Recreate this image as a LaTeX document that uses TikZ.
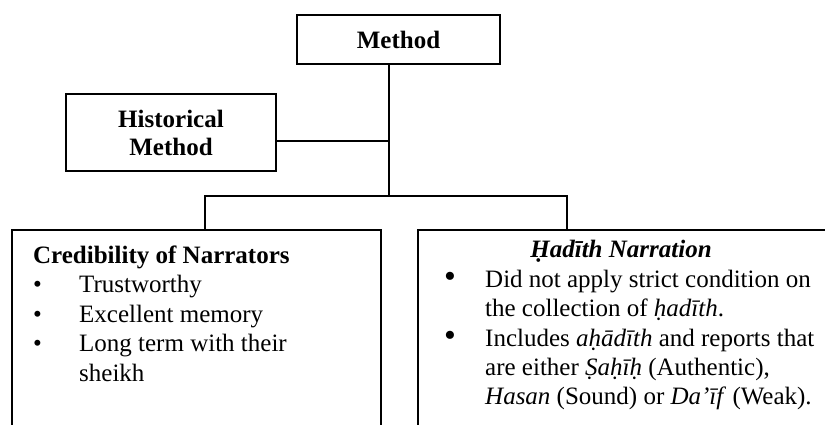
\documentclass[tikz,border=0pt]{standalone}
\usepackage{fontspec}
\setmainfont{Liberation Serif}
\usepackage{array}
\usepackage{graphicx}
\newcommand{\bigbul}{\raisebox{-0.5pt}{\scalebox{1.35}{\textbullet}}}
\begin{document}
\begin{tikzpicture}[x=1pt,y=-1pt,
  boxframe/.style={draw, line width=1.6pt, inner sep=0pt},
  lbl/.style={font=\fontsize{25}{28}\selectfont\bfseries, align=center},
  body/.style={inner sep=0pt, font=\fontsize{25}{29.5}\selectfont},
  wire/.style={line width=1.6pt}]
\useasboundingbox (0,0) rectangle (825,425);
\clip (0,0) rectangle (825,425);
\node[boxframe, lbl, minimum width=203pt, minimum height=49pt] (method) at (398.5,39.5) {Method};
\node[boxframe, lbl, minimum width=210pt, minimum height=77pt] (hist) at (171,132.5) {Historical\\Method};
\node[boxframe, minimum width=369pt, minimum height=210pt] (left) at (196.5,335) {};
\node[boxframe, minimum width=422pt, minimum height=210pt] (right) at (629,335) {};
\coordinate (j) at (389,196);
\coordinate (hj) at (389,141);
\coordinate (jl) at (205,196);
\coordinate (jr) at (567,196);
\draw[wire] (method.south -| j) -- (j);
\draw[wire] (hist.east |- hj) -- (hj);
\draw[wire] (left.north -| jl) -- (jl) -- (jr) -- (right.north -| jr);
\node[body, anchor=base west] (lt) at (33,263) {\begin{tabular}[t]{@{}p{46pt}@{}l@{}}
\multicolumn{2}{@{}l@{}}{\bfseries Credibility of Narrators}\\
\textbullet & Trustworthy\\
\textbullet & Excellent memory\\
\textbullet & Long term with their\\
 & sheikh
\end{tabular}};
\node[body, anchor=base] (rtitle) at (621,257) {\bfseries\itshape Ḥadīth Narration};
\node[body, anchor=base west] (rt) at (444,287) {\begin{tabular}[t]{@{}p{41pt}@{}l@{}}
\bigbul & Did not apply strict condition on\\
 & the collection of \textit{ḥadīth}.\\
\bigbul & Includes \textit{aḥādīth} and reports that\\
 & are either \textit{Ṣaḥīḥ} (Authentic),\\
 & \textit{Hasan} (Sound) or \textit{Da’īf} (Weak).
\end{tabular}};
\end{tikzpicture}
\end{document}
